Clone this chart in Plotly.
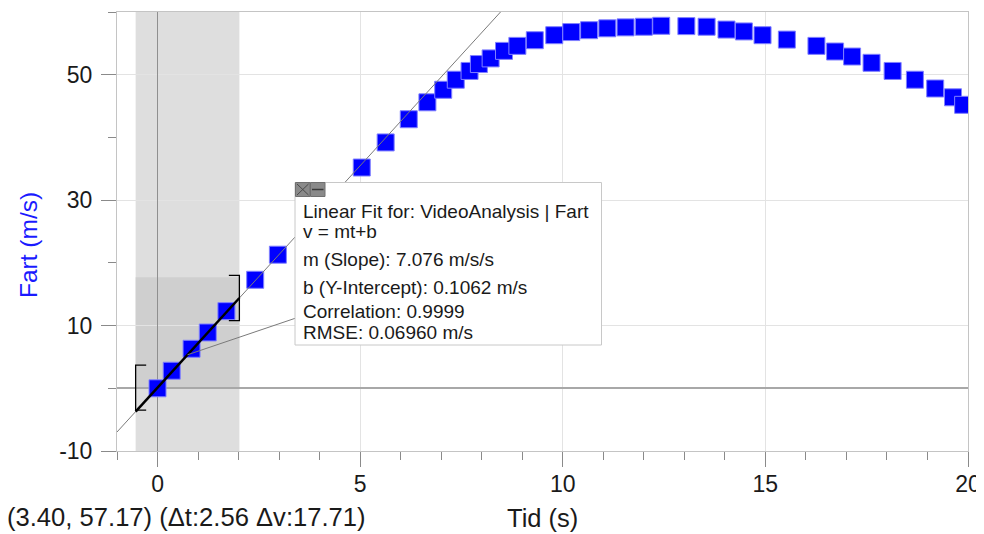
import plotly.graph_objects as go

# ---- data ----
t = [0.00, 0.35, 0.84, 1.24, 1.70, 2.41, 2.97, 5.04, 5.63, 6.20, 6.66, 7.05, 7.36, 7.70,
     7.93, 8.22, 8.55, 8.88, 9.31, 9.79, 10.21, 10.65, 11.10, 11.55, 12.00, 12.43, 13.05,
     13.55, 14.04, 14.47, 14.93, 15.53, 16.26, 16.72, 17.14, 17.62, 18.14, 18.69, 19.19,
     19.63, 19.88]
v = [0.0, 2.8, 6.3, 8.9, 12.3, 17.3, 21.3, 35.2, 39.2, 42.9, 45.6, 47.6, 49.2, 50.6,
     51.7, 52.6, 53.8, 54.6, 55.5, 56.3, 56.8, 57.1, 57.4, 57.55, 57.65, 57.8, 57.75,
     57.65, 57.2, 56.9, 56.3, 55.6, 54.6, 53.7, 52.9, 51.9, 50.6, 49.2, 47.8,
     46.4, 45.2]

FIT_M = 7.076
FIT_B = 0.1062
SEL_T0, SEL_T1 = -0.54, 2.02
SEL_V0, SEL_V1 = 0.0, 17.71
X_RANGE = [-1, 20]
Y_RANGE = [-10, 60]
Y_TICK_VALS = [-10, 10, 30, 50]
Y_TICK_TEXT = ["-10", "10", "30", "50"]
BOX_LINES = [
    "Linear Fit for: VideoAnalysis | Fart",
    "v = mt+b",
    "m (Slope): 7.076 m/s/s",
    "b (Y-Intercept): 0.1062 m/s",
    "Correlation: 0.9999",
    "RMSE: 0.06960 m/s",
]
STATUS = "(3.40, 57.17) (Δt:2.56 Δv:17.71)"
X_TITLE = "Tid (s)"
Y_TITLE = "Fart (m/s)"

# ---- layout geometry (screen pixels; page has an 8px body margin) ----
OFF = 8
W, H = 984 - OFF, 534 - OFF
PL, PR, PT, PB = 117, 968, 12, 451      # plot area on screen
FONT = "Liberation Sans, Arial, sans-serif"


def px(x):
    return (x - PL) / (PR - PL)


def py(y):
    return (PB - y) / (PB - PT)


def fit(x):
    return FIT_M * x + FIT_B


fig = go.Figure()

# data markers
fig.add_trace(go.Scatter(
    x=t, y=v, mode="markers",
    marker=dict(symbol="square", size=17, color="#0000ff",
                line=dict(color="#8080ff", width=1)),
    hoverinfo="skip"))

# full fit line (thin)
fx = [X_RANGE[0], X_RANGE[1]]
fig.add_trace(go.Scatter(x=fx, y=[fit(a) for a in fx], mode="lines",
                         line=dict(color="#7a7a7a", width=1), hoverinfo="skip"))

# thick fit over selection
sx = [SEL_T0, SEL_T1]
fig.add_trace(go.Scatter(x=sx, y=[fit(a) for a in sx], mode="lines",
                         line=dict(color="#000000", width=2.5), hoverinfo="skip"))

# brackets
BH = 3.6
BW = 0.26
cl = fit(0)
cr = fit(SEL_T1)
fig.add_trace(go.Scatter(
    x=[SEL_T0 + BW, SEL_T0, SEL_T0, SEL_T0 + BW],
    y=[cl + BH, cl + BH, cl - BH, cl - BH], mode="lines",
    line=dict(color="#000000", width=1.3), hoverinfo="skip"))
fig.add_trace(go.Scatter(
    x=[SEL_T1 - BW, SEL_T1, SEL_T1, SEL_T1 - BW],
    y=[cr + BH, cr + BH, cr - BH, cr - BH], mode="lines",
    line=dict(color="#000000", width=1.3), hoverinfo="skip"))

# connector from fit line to box
xpu = (PR - PL) / (X_RANGE[1] - X_RANGE[0])
ypu = (PB - PT) / (Y_RANGE[1] - Y_RANGE[0])
cx_end = X_RANGE[0] + (296 - PL) / xpu
cy_end = Y_RANGE[0] + (PB - 318) / ypu
fig.add_trace(go.Scatter(x=[0.74, cx_end], y=[fit(0.74), cy_end], mode="lines",
                         line=dict(color="#7a7a7a", width=1), hoverinfo="skip"))

shapes = [
    dict(type="rect", xref="x", yref="y domain", x0=SEL_T0, x1=SEL_T1, y0=0, y1=1,
         fillcolor="#dedede", line=dict(width=0), layer="below"),
    dict(type="rect", xref="x", yref="y", x0=SEL_T0, x1=SEL_T1, y0=SEL_V0, y1=SEL_V1,
         fillcolor="#cfcfcf", line=dict(width=0), layer="below"),
    # info box
    dict(type="rect", xref="paper", yref="paper", x0=px(295), x1=px(601.5),
         y0=py(345), y1=py(182.5), fillcolor="#ffffff",
         line=dict(color="#c8c8c8", width=1), layer="above"),
    # close icon
    dict(type="rect", xref="paper", yref="paper", x0=px(295.5), x1=px(310),
         y0=py(196.5), y1=py(182.5), fillcolor="#8a8a8a",
         line=dict(color="#707070", width=1), layer="above"),
    dict(type="line", xref="paper", yref="paper", x0=px(297), x1=px(308.5),
         y0=py(184), y1=py(195), line=dict(color="#4a4a4a", width=1), layer="above"),
    dict(type="line", xref="paper", yref="paper", x0=px(297), x1=px(308.5),
         y0=py(195), y1=py(184), line=dict(color="#4a4a4a", width=1), layer="above"),
    # minimize icon
    dict(type="rect", xref="paper", yref="paper", x0=px(310.5), x1=px(325),
         y0=py(196.5), y1=py(182.5), fillcolor="#8a8a8a",
         line=dict(color="#707070", width=1), layer="above"),
    dict(type="line", xref="paper", yref="paper", x0=px(312), x1=px(323.5),
         y0=py(189.5), y1=py(189.5), line=dict(color="#3a3a3a", width=1.5), layer="above"),
]

annotations = []
line_ys = [211.7, 231.5, 259.3, 287.3, 311.7, 332.3]
for txt, ly in zip(BOX_LINES, line_ys):
    annotations.append(dict(text=txt, xref="paper", yref="paper", x=px(301), y=py(ly),
                            xanchor="left", yanchor="middle", showarrow=False,
                            font=dict(family=FONT, size=19, color="#1a1a1a")))

annotations.append(dict(text=X_TITLE, xref="paper", yref="paper", x=px(542), y=py(518.5),
                        xanchor="center", yanchor="middle", showarrow=False,
                        font=dict(family=FONT, size=25.5, color="#1a1a1a")))
annotations.append(dict(text=Y_TITLE, xref="paper", yref="paper", x=px(28), y=py(245),
                        xanchor="center", yanchor="middle", showarrow=False, textangle=-90,
                        font=dict(family=FONT, size=24.5, color="#1a1aff")))
annotations.append(dict(text=STATUS, xref="paper", yref="paper", x=px(5), y=py(517),
                        xanchor="left", yanchor="middle", showarrow=False,
                        font=dict(family=FONT, size=25.6, color="#1a1a1a")))

axis_common = dict(
    showgrid=True, gridcolor="#e3e3e3", gridwidth=1,
    ticks="outside", ticklen=15, tickcolor="#8a8a8a", tickwidth=1,
    showline=True, linecolor="#c4c4c4", linewidth=1, mirror=True,
    tickfont=dict(family=FONT, size=23, color="#1a1a1a"),
    fixedrange=True,
)

fig.update_layout(
    width=W, height=H,
    margin=dict(l=PL - OFF, r=W - (PR - OFF), t=PT - OFF, b=H - (PB - OFF), pad=0),
    paper_bgcolor="#ffffff", plot_bgcolor="#ffffff",
    showlegend=False,
    shapes=shapes, annotations=annotations,
    xaxis=dict(range=X_RANGE, tick0=0, dtick=5, ticklabelstandoff=-3,
               zeroline=True, zerolinecolor="#8f8f8f", zerolinewidth=1.3,
               minor=dict(ticks="outside", ticklen=8, tickcolor="#8a8a8a",
                          dtick=1, tick0=0, showgrid=False),
               **axis_common),
    yaxis=dict(range=Y_RANGE, tickmode="array", tickvals=Y_TICK_VALS,
               ticktext=Y_TICK_TEXT, ticklabelstandoff=4,
               zeroline=True, zerolinecolor="#a8a8a8", zerolinewidth=2,
               minor=dict(ticks="outside", ticklen=8, tickcolor="#8a8a8a",
                          dtick=10, tick0=-10, showgrid=False),
               **axis_common),
)

fig.write_html("out.html")
